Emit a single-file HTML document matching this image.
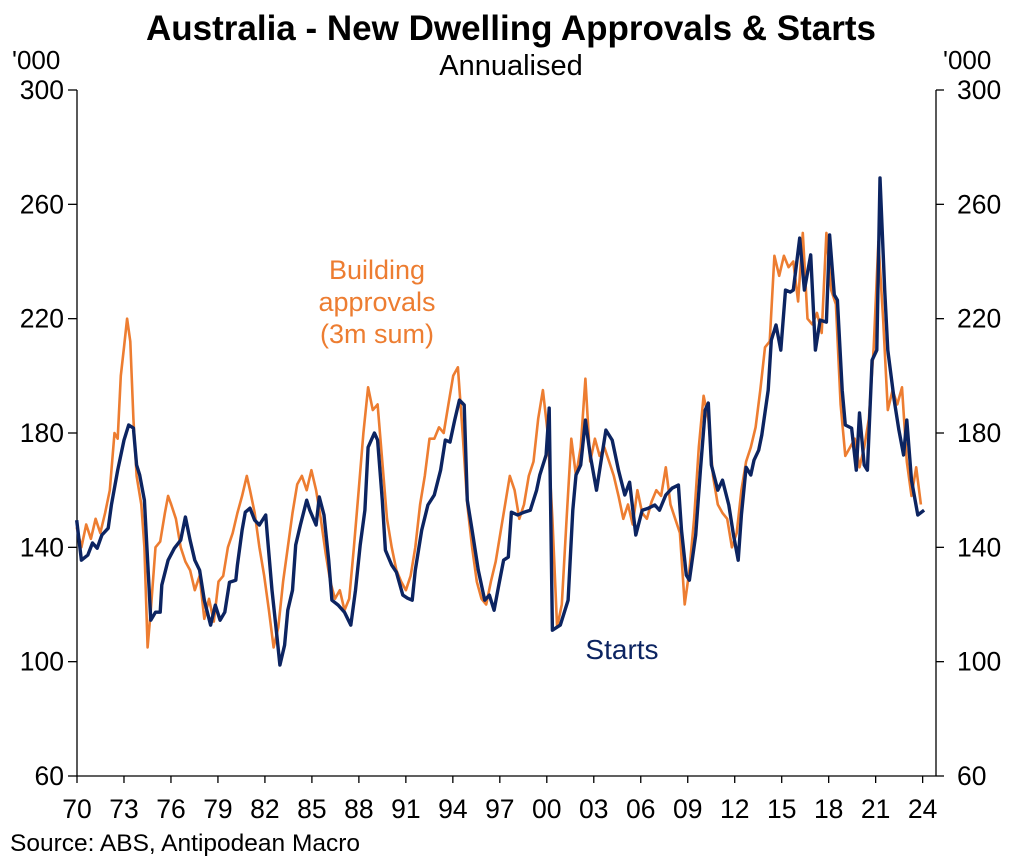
<!DOCTYPE html>
<html><head><meta charset="utf-8"><style>
body{margin:0;background:#fff;}
svg{display:block;font-family:"Liberation Sans",Arial,sans-serif;}
</style></head><body>
<svg id="chart" width="1011" height="862" viewBox="0 0 1011 862">
<text x="511" y="40" text-anchor="middle" font-size="35" font-weight="bold">Australia - New Dwelling Approvals &amp; Starts</text>
<text x="511" y="75" text-anchor="middle" font-size="29">Annualised</text>
<text x="12" y="69" font-size="26">'000</text>
<text x="943" y="69" font-size="26">'000</text>
<text x="10" y="851" font-size="24.5">Source: ABS, Antipodean Macro</text>
<text x="377" y="279" text-anchor="middle" font-size="27" fill="#ED7D31"><tspan x="377">Building</tspan><tspan x="377" dy="32">approvals</tspan><tspan x="377" dy="32">(3m sum)</tspan></text>
<text x="622" y="659" text-anchor="middle" font-size="28" fill="#0C2461">Starts</text>
<g id="axes"></g>
<g id="series"></g>
</svg>
<script>
const yTicks=[60,100,140,180,220,260,300];
const xTickYears=[1970,1973,1976,1979,1982,1985,1988,1991,1994,1997,2000,2003,2006,2009,2012,2015,2018,2021,2024];
const xTickLabels=["70","73","76","79","82","85","88","91","94","97","00","03","06","09","12","15","18","21","24"];
const startsYears=[1970.3,1970.6,1971.0,1971.3,1971.6,1971.9,1972.3,1972.5,1972.9,1973.3,1973.6,1973.9,1974.1,1974.3,1974.6,1975.0,1975.3,1975.6,1975.7,1976.1,1976.5,1976.9,1977.2,1977.5,1977.8,1978.1,1978.4,1978.8,1979.1,1979.4,1979.7,1980.0,1980.4,1980.5,1980.8,1981.0,1981.3,1981.6,1981.9,1982.3,1982.4,1982.7,1983.0,1983.2,1983.5,1983.7,1984.0,1984.2,1984.5,1984.9,1985.1,1985.5,1985.7,1986.0,1986.3,1986.5,1986.9,1987.3,1987.7,1988.0,1988.3,1988.6,1988.8,1989.2,1989.4,1989.7,1989.9,1990.3,1990.6,1991.0,1991.3,1991.6,1991.8,1992.2,1992.6,1993.0,1993.4,1993.7,1994.0,1994.3,1994.6,1994.9,1995.1,1995.4,1995.8,1996.2,1996.5,1996.8,1997.1,1997.4,1997.7,1997.9,1998.3,1998.7,1999.1,1999.5,1999.7,2000.1,2000.3,2000.5,2001.0,2001.5,2001.8,2002.0,2002.3,2002.6,2002.9,2003.3,2003.5,2003.9,2004.3,2004.7,2005.1,2005.4,2005.8,2006.2,2006.6,2007.0,2007.3,2007.7,2008.1,2008.5,2008.7,2009.0,2009.2,2009.6,2009.9,2010.2,2010.4,2010.6,2011.0,2011.3,2011.7,2012.0,2012.3,2012.5,2012.8,2013.1,2013.3,2013.6,2013.8,2014.2,2014.4,2014.7,2015.0,2015.3,2015.6,2015.8,2016.2,2016.5,2016.9,2017.2,2017.5,2017.9,2018.1,2018.4,2018.6,2018.9,2019.1,2019.5,2019.8,2020.0,2020.3,2020.5,2020.8,2021.1,2021.3,2021.6,2021.8,2022.2,2022.5,2022.8,2023.0,2023.3,2023.7,2024.1];
const startsValues=[149.5,135.5,137.3,141.5,139.7,144.3,146.7,154.8,167,177.5,182.8,181.7,168.8,165.3,156.5,114.5,117.3,117.3,126.8,135.5,139.7,142.5,150.6,142.5,135.5,132,121.5,112.8,119.8,114.5,117.3,127.8,128.5,133.8,146,152.3,153.7,149.5,147.8,151.3,144.3,125,109.3,98.8,105.8,118,125,140.8,147.8,156.5,153,147.8,157.6,151.3,135.5,121.5,119.8,117.3,112.8,125,140.8,153,175,180,177.5,156.5,139,133.8,131.3,123.3,122.2,121.5,132,146,154.8,158.3,167,177.5,176.8,184.5,191.5,189.8,156.5,146,132,121.5,123.3,118,126.8,135.5,136.6,152.3,151.3,152.3,153,160,165.3,172.3,188.7,111,112.8,121.5,153,165.3,168.8,184.5,172.3,160,167,181,177.5,167,158.3,162.8,144.3,153,153.7,154.8,153,158.3,160.7,161.8,146,130.3,128.5,144.3,167,188,190.5,168.8,160,163.5,154.8,144.3,135.5,151.3,168,165.3,170.5,174,179.3,195,212.5,217.8,209,230,229.3,230,248.2,230,242.3,209,219.5,218.8,249.3,228.3,226.5,195,182.8,181.7,167,187,168.8,167,205.5,209,269.2,230,209,191.5,181,172.3,184.5,163.5,151.3,153];
const apprYears=[1970.3,1970.6,1970.9,1971.2,1971.5,1971.8,1972.1,1972.4,1972.7,1972.9,1973.1,1973.3,1973.5,1973.7,1973.9,1974.1,1974.4,1974.6,1974.8,1975.0,1975.3,1975.6,1975.9,1976.1,1976.3,1976.6,1976.9,1977.2,1977.5,1977.8,1978.1,1978.4,1978.7,1979.0,1979.3,1979.6,1979.9,1980.2,1980.5,1980.8,1981.1,1981.3,1981.6,1981.9,1982.2,1982.5,1982.8,1983.1,1983.4,1983.7,1984.0,1984.3,1984.6,1984.9,1985.2,1985.5,1985.8,1986.1,1986.4,1986.7,1987.0,1987.3,1987.6,1987.9,1988.2,1988.5,1988.8,1989.1,1989.4,1989.7,1990.0,1990.3,1990.6,1990.9,1991.2,1991.5,1991.8,1992.1,1992.4,1992.7,1993.0,1993.3,1993.6,1993.9,1994.2,1994.5,1994.8,1995.1,1995.4,1995.7,1996.0,1996.3,1996.6,1996.9,1997.2,1997.5,1997.8,1998.1,1998.4,1998.7,1999.0,1999.3,1999.6,1999.9,2000.2,2000.5,2000.8,2001.1,2001.4,2001.7,2002.0,2002.3,2002.6,2002.9,2003.2,2003.5,2003.8,2004.1,2004.4,2004.7,2005.0,2005.3,2005.6,2005.9,2006.2,2006.5,2006.8,2007.1,2007.4,2007.7,2008.0,2008.3,2008.6,2008.9,2009.2,2009.5,2009.8,2010.1,2010.4,2010.7,2011.0,2011.3,2011.6,2011.9,2012.2,2012.5,2012.8,2013.1,2013.4,2013.7,2014.0,2014.3,2014.6,2014.9,2015.2,2015.5,2015.8,2016.1,2016.4,2016.7,2017.0,2017.3,2017.6,2017.9,2018.2,2018.5,2018.8,2019.1,2019.4,2019.7,2020.0,2020.3,2020.6,2020.9,2021.2,2021.5,2021.8,2022.1,2022.4,2022.7,2023.0,2023.3,2023.6,2023.9];
const apprValues=[147,140,148,143,150,145,152,160,180,178,200,210,220,212,185,165,155,140,105,118,140,142,152,158,155,150,140,135,132,125,130,115,122,114,128,130,140,145,152,158,165,160,152,140,130,118,105,112,128,140,152,162,165,160,167,160,150,138,128,122,125,118,122,140,160,180,196,188,190,170,150,140,132,128,125,130,140,155,165,178,178,182,180,190,200,203,180,155,140,128,122,120,128,135,145,155,165,160,150,155,165,170,185,195,180,150,112,120,150,178,165,175,199,170,178,172,175,170,165,158,150,155,148,160,152,150,156,160,158,168,155,150,145,120,132,150,175,193,185,165,155,152,150,140,145,160,170,175,182,195,210,212,242,235,242,238,240,226,250,220,218,222,215,250,230,225,190,172,175,178,168,175,185,210,247,220,188,195,190,196,170,158,168,155];

const L=77,R=936,T=90,B=776;
const xS=y=>72+(y-1970)*15.75;
const xT=y=>77+(y-1970)*15.66;
const yS=v=>B-(v-60)/240*(B-T);
const NS="http://www.w3.org/2000/svg";
function mk(tag,attrs,parent){const e=document.createElementNS(NS,tag);for(const k in attrs)e.setAttribute(k,attrs[k]);parent.appendChild(e);return e;}
const ax=document.getElementById('axes');
let e;
e=mk('line',{x1:L,y1:T,x2:L,y2:B,stroke:'#000','stroke-width':1.3},ax);


e=mk('line',{x1:R,y1:T,x2:R,y2:B,stroke:'#000','stroke-width':1.3},ax);


e=mk('line',{x1:L,y1:B,x2:R,y2:B,stroke:'#000','stroke-width':1.3},ax);


yTicks.forEach(v=>{
  const y=yS(v);
  mk('line',{x1:L-9,y1:y,x2:L,y2:y,stroke:'#000','stroke-width':1.3},ax);
  mk('line',{x1:R,y1:y,x2:R+8,y2:y,stroke:'#000','stroke-width':1.3},ax);
  let t=mk('text',{x:64,y:y+9,'text-anchor':'end','font-size':26.5},ax);t.textContent=v;
  
  
  t=mk('text',{x:957,y:y+9,'font-size':26.5},ax);t.textContent=v;
  
  
});
xTickYears.forEach((yr,i)=>{
  const x=xT(yr);
  mk('line',{x1:x,y1:B,x2:x,y2:B+7,stroke:'#000','stroke-width':1.3},ax);
  const t=mk('text',{x:x,y:B+42,'text-anchor':'middle','font-size':26.5},ax);t.textContent=xTickLabels[i];
  
  
});
const sg=document.getElementById('series');
function line(xs,vs,color,w,name){
  const d=xs.map((x,i)=>(i?'L':'M')+xS(x).toFixed(1)+','+yS(vs[i]).toFixed(1)).join('');
  const p=mk('path',{d:d,fill:'none',stroke:color,'stroke-width':w,'stroke-linejoin':'round'},sg);
  
  
}
line(apprYears,apprValues,'#ED7D31',2.6,'approvals-line');
line(startsYears,startsValues,'#0C2461',3.4,'starts-line');
</script>
</body></html>
